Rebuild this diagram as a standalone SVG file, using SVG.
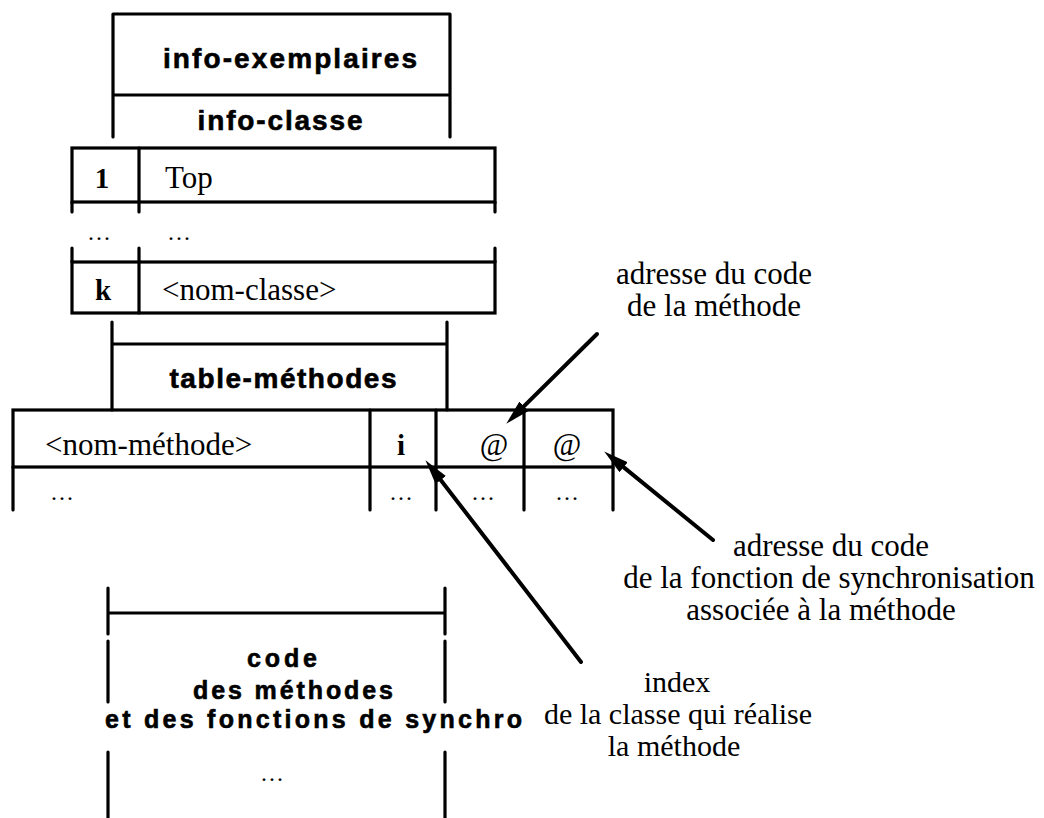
<svg xmlns="http://www.w3.org/2000/svg" width="1044" height="818" viewBox="0 0 1044 818">
  <style>
    .ln { stroke: #000; stroke-width: 3.2; fill: none; stroke-linecap: round; }
    .bx { stroke: #000; stroke-width: 3.2; fill: none; }
    .arr { stroke: #000; stroke-width: 4; fill: none; stroke-linecap: round; }
    .hb { font-family: "Liberation Sans", Arial, sans-serif; font-weight: bold; font-size: 28px; fill: #000; stroke: #000; stroke-width: 0.6; }
    .hc { font-family: "Liberation Sans", Arial, sans-serif; font-weight: bold; font-size: 25px; fill: #000; stroke: #000; stroke-width: 0.6; }
    .sr { font-family: "Liberation Serif", "Times New Roman", serif; font-size: 31px; fill: #000; }
    .si { font-family: "Liberation Serif", "Times New Roman", serif; font-size: 30px; fill: #000; }
    .sb { font-family: "Liberation Serif", "Times New Roman", serif; font-weight: bold; font-size: 29px; fill: #000; }
    .dt { font-family: "Liberation Serif", "Times New Roman", serif; font-size: 24px; letter-spacing: 2px; fill: #000; }
    .mid { text-anchor: middle; }
  </style>
  <defs>
    <marker id="ah" markerUnits="userSpaceOnUse" markerWidth="26" markerHeight="14" refX="12" refY="6.5" orient="auto">
      <path d="M0,0 L25,6.5 L0,13 z" fill="#000"/>
    </marker>
  </defs>
  <rect width="1044" height="818" fill="#fff"/>

  <g id="node-info-exemplaires">
    <path class="ln" d="M113,14 H450 M113,14 V137 M450,14 V137 M113,95 H450"/>
    <text class="hb mid" x="290" y="68" textLength="254" lengthAdjust="spacing">info-exemplaires</text>
  </g>

  <g id="node-info-classe">
    <text class="hb mid" x="280" y="130" textLength="165" lengthAdjust="spacing">info-classe</text>
  </g>

  <g id="node-row-top">
    <rect class="bx" x="72" y="148" width="423" height="54"/>
    <path class="ln" d="M139,148 V212 M72,202 V212 M495,202 V212"/>
    <text class="sb mid" x="102" y="188">1</text>
    <text class="sr" x="165" y="188">Top</text>
  </g>

  <g id="node-row-dots">
    <text class="dt mid" x="100" y="240">...</text>
    <text class="dt mid" x="180" y="240">...</text>
  </g>

  <g id="node-row-k">
    <path class="ln" d="M72,248 V262 M139,248 V262 M495,248 V262"/>
    <rect class="bx" x="72" y="262" width="423" height="51"/>
    <path class="ln" d="M139,262 V313"/>
    <text class="sb mid" x="103" y="300">k</text>
    <text class="sr" x="162" y="300">&lt;nom-classe&gt;</text>
  </g>

  <g id="node-table-methodes">
    <path class="ln" d="M112,322 V410 M447,322 V410 M112,344 H447"/>
    <text class="hb mid" x="283" y="388" textLength="227" lengthAdjust="spacing">table-méthodes</text>
  </g>

  <g id="node-row-methode">
    <rect class="bx" x="13" y="410" width="600" height="57"/>
    <path class="ln" d="M370,410 V510 M436,410 V510 M524,410 V510 M13,467 V510 M613,467 V510"/>
    <text class="sr" x="45" y="455">&lt;nom-méthode&gt;</text>
    <text class="sb mid" x="401" y="455">i</text>
    <text class="sr mid" x="494" y="455">@</text>
    <text class="sr mid" x="567" y="455">@</text>
    <text class="dt mid" x="63" y="500">...</text>
    <text class="dt mid" x="402" y="500">...</text>
    <text class="dt mid" x="484" y="500">...</text>
    <text class="dt mid" x="568" y="500">...</text>
  </g>

  <g id="node-code">
    <path class="ln" d="M108,588 V634 M108,641 V702 M108,752 V818 M445,588 V634 M445,641 V702 M445,752 V818 M108,613 H445"/>
    <text class="hc mid" x="282" y="667" textLength="70" lengthAdjust="spacing">code</text>
    <text class="hc mid" x="293" y="699" textLength="200" lengthAdjust="spacing">des méthodes</text>
    <text class="hc" x="105" y="728" textLength="417" lengthAdjust="spacing">et des fonctions de synchro</text>
    <text class="dt mid" x="273" y="781">...</text>
  </g>

  <g id="label-adresse-methode">
    <text class="sr mid" x="714" y="284">adresse du code</text>
    <text class="sr mid" x="714" y="316">de la méthode</text>
  </g>

  <g id="label-adresse-synchro">
    <text class="sr mid" x="831" y="556">adresse du code</text>
    <text class="sr mid" x="829" y="588">de la fonction de synchronisation</text>
    <text class="sr mid" x="821" y="620">associée à la méthode</text>
  </g>

  <g id="label-index">
    <text class="si mid" x="677" y="692">index</text>
    <text class="si mid" x="678" y="724">de la classe qui réalise</text>
    <text class="si mid" x="674" y="756">la méthode</text>
  </g>

  <g id="connectors">
    <path class="arr" d="M597,334 L515.5,414.6" marker-end="url(#ah)"/>
    <path class="arr" d="M713,540 L614.3,459.6" marker-end="url(#ah)"/>
    <path class="arr" d="M581,662 L433.4,470.5" marker-end="url(#ah)"/>
  </g>
</svg>
